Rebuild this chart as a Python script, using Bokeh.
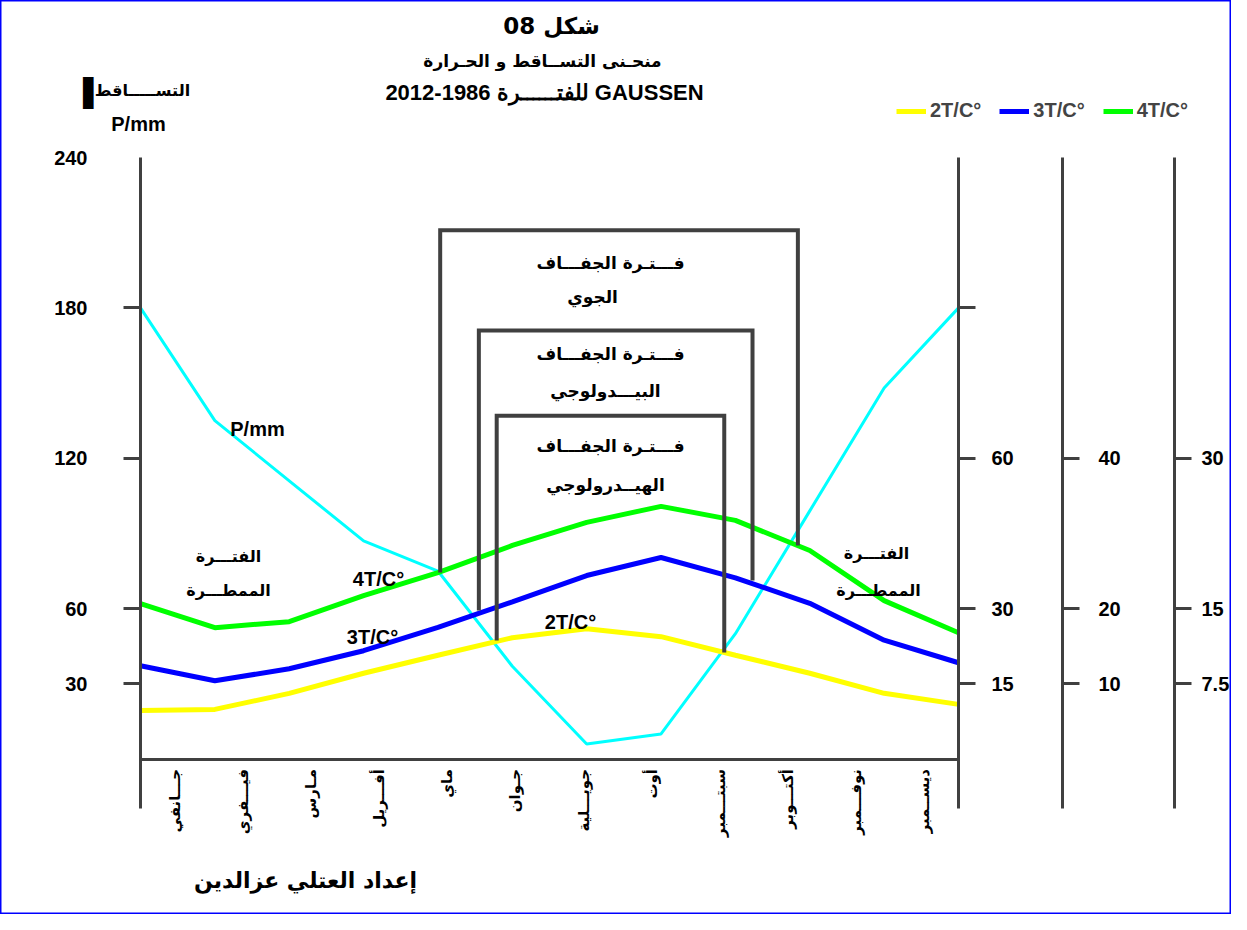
import math
from bokeh.plotting import figure
from bokeh.models import Range1d, LinearAxis, FixedTicker, Legend, LegendItem
from bokeh.core.properties import value
from bokeh.embed import file_html
from bokeh.resources import INLINE

# ---------------- data ----------------
months = ["جـــانفي", "فيـــفري", "مـارس", "أفـــريل", "ماي", "جـوان",
          "جويـــلية", "أوت", "سبتـــمبر", "أكتـــوبر", "نوفـــمبر", "ديســمبر"]
month_num = [1, 2, 3, 4, 5, 6, 7, 8, 9, 10, 11, 12]
precip_mm = [180, 135, 111, 87, 75, 37, 6, 10, 50, 99, 148, 180]
temp_2t = [9.7, 9.9, 13.1, 17.1, 20.7, 24.2, 26.0, 24.4, 20.7, 17.1, 13.1, 10.9]
temp_3t = [12.4, 10.4, 12.0, 14.4, 17.5, 20.9, 24.4, 26.8, 24.1, 20.7, 15.8, 12.8]
temp_4t = [15.5, 13.1, 13.7, 16.3, 18.6, 21.3, 23.6, 25.2, 23.8, 20.8, 15.8, 12.6]

p_ticks = [30, 60, 120, 180]
p_top_tick = [240]
t2_ticks = [15, 30, 60, 90]
t3_ticks = [10, 20, 40]
t4_ticks = [7.5, 15, 30]

# dry periods (atmospheric / pedological / hydrological)
dry_title = ["فـــتـرة الجفـــاف", "فـــتـرة الجفـــاف", "فـــتـرة الجفـــاف"]
dry_kind = ["الجوي", "البيـــدولوجي", "الهيــدرولوجي"]
dry_start = [5.03, 5.55, 5.79]
dry_end = [9.84, 9.23, 8.85]
dry_top = [211, 171, 137]
dry_bottom_start = [74.4, 59.3, 47.3]
dry_bottom_end = [85.2, 71.2, 42.5]

# ---------------- geometry ----------------
W, H = 1231, 914
SX = 818.0 / 11.0          # px per month
SY = 601.5 / 240.0         # px per mm
x_start = 1 - 140.0 / SX
x_end = x_start + W / SX
y_end = 758.5 / SY
y_start = y_end - H / SY
axis_low = -(808 - 758.5) / SY


def X(rx):
    return x_start + rx / SX


def Y(ry):
    return y_end - ry / SY


p = figure(width=W, height=H, output_backend="svg", toolbar_location=None,
           x_range=Range1d(x_start, x_end), y_range=Range1d(y_start, y_end),
           x_axis_location=None, y_axis_location=None,
           min_border=0, min_border_left=0, min_border_right=0,
           min_border_top=0, min_border_bottom=0)
p.grid.visible = False
p.outline_line_color = "#0000FF"
p.outline_line_width = 2
p.background_fill_color = "white"
p.border_fill_color = "white"

p.extra_y_ranges = {
    "t2": Range1d(y_start / 2, y_end / 2),
    "t3": Range1d(y_start / 3, y_end / 3),
    "t4": Range1d(y_start / 4, y_end / 4),
}

GRAY = "#404040"
LATIN = "Liberation Sans"
ARABIC = "DejaVu Sans"


def style(ax, tick_out, standoff):
    ax.axis_line_color = GRAY
    ax.axis_line_width = 3
    ax.major_tick_line_color = GRAY
    ax.major_tick_line_width = 3
    ax.major_tick_out = tick_out
    ax.major_tick_in = 0
    ax.minor_tick_line_color = None
    ax.major_label_text_font = LATIN
    ax.major_label_text_font_style = "bold"
    ax.major_label_text_font_size = "20px"
    ax.major_label_text_color = "black"
    ax.major_label_standoff = standoff


ax_l = LinearAxis(fixed_location=1, bounds=(axis_low, 240), ticker=FixedTicker(ticks=p_ticks))
style(ax_l, 17, 36)
p.add_layout(ax_l, "left")

ax_l2 = LinearAxis(fixed_location=1, bounds=(axis_low, 240), ticker=FixedTicker(ticks=p_top_tick))
style(ax_l2, 0, 53)
ax_l2.axis_line_color = None
ax_l2.major_tick_line_color = None
p.add_layout(ax_l2, "left")

ax_r2 = LinearAxis(fixed_location=12, y_range_name="t2", bounds=(axis_low / 2, 120),
                   ticker=FixedTicker(ticks=t2_ticks), major_label_overrides={90: ""})
style(ax_r2, 17, 16)
p.add_layout(ax_r2, "right")

ax_r3 = LinearAxis(fixed_location=X(1062), y_range_name="t3", bounds=(axis_low / 3, 80),
                   ticker=FixedTicker(ticks=t3_ticks))
style(ax_r3, 17, 19)
p.add_layout(ax_r3, "right")

ax_r4 = LinearAxis(fixed_location=X(1174), y_range_name="t4", bounds=(axis_low / 4, 60),
                   ticker=FixedTicker(ticks=t4_ticks))
style(ax_r4, 17, 10)
p.add_layout(ax_r4, "right")

centers = [round(1 + (i + 0.5) * 11 / 12, 4) for i in range(12)]
ax_b = LinearAxis(fixed_location=0, bounds=(1, 12), ticker=FixedTicker(ticks=centers),
                  major_label_overrides={c: m for c, m in zip(centers, months)})
style(ax_b, 0, 10)
ax_b.major_tick_line_color = None
ax_b.major_label_text_font = ARABIC
ax_b.major_label_text_font_size = "15px"
ax_b.major_label_orientation = math.pi / 2
p.add_layout(ax_b, "below")

# ---------------- curves ----------------
p.line(month_num, precip_mm, line_color="#00FFFF", line_width=3)
r2 = p.line(month_num, temp_2t, y_range_name="t2", line_color="#FFFF00", line_width=5)
r3 = p.line(month_num, temp_3t, y_range_name="t3", line_color="#0000FF", line_width=5)
r4 = p.line(month_num, temp_4t, y_range_name="t4", line_color="#00FF00", line_width=5)

# dry period boxes
xs = [[s, s, e, e] for s, e in zip(dry_start, dry_end)]
ys = [[b0, t, t, b1] for b0, t, b1 in zip(dry_bottom_start, dry_top, dry_bottom_end)]
p.multi_line(xs, ys, line_color=GRAY, line_width=4, line_join="miter")

# box texts
p.text(x=[X(610), X(610), X(610)], y=[Y(262), Y(353), Y(445)], text=dry_title,
       text_font=value(ARABIC), text_font_style="bold", text_font_size="17px",
       text_align="center", text_baseline="middle", text_color="black")
p.text(x=[X(592), X(605), X(605)], y=[Y(296), Y(390), Y(484)], text=dry_kind,
       text_font=value(ARABIC), text_font_style="bold", text_font_size="17px",
       text_align="center", text_baseline="middle", text_color="black")

# rainy period texts
p.text(x=[X(228), X(228), X(876), X(878)], y=[Y(556), Y(590), Y(553), Y(590)],
       text=["الفتـــرة", "الممطـــرة", "الفتـــرة", "الممطـــرة"],
       text_font=value(ARABIC), text_font_style="bold", text_font_size="16px",
       text_align="center", text_baseline="middle", text_color="black")

# curve labels
p.text(x=[X(257), X(378), X(372), X(570)], y=[Y(428), Y(578), Y(636), Y(621)],
       text=["P/mm", "4T/C°", "3T/C°", "2T/C°"],
       text_font=value(LATIN), text_font_style="bold", text_font_size="20px",
       text_align="center", text_baseline="middle", text_color="black")

# titles
p.text(x=[X(551)], y=[Y(25)], text=["شكل 08"], text_font=value(ARABIC),
       text_font_style="bold", text_font_size="23px", text_align="center",
       text_baseline="middle", text_color="black")
p.text(x=[X(542)], y=[Y(60)], text=["منحـنى التســاقط و الحـرارة"], text_font=value(ARABIC),
       text_font_style="bold", text_font_size="17px", text_align="center",
       text_baseline="middle", text_color="black")
p.text(x=[X(544)], y=[Y(92)], text=["2012-1986 للفتــــــرة GAUSSEN"], text_font=value(LATIN),
       text_font_style="bold", text_font_size="22px", text_align="center",
       text_baseline="middle", text_color="black")

# left axis title
p.text(x=[X(142)], y=[Y(90)], text=["التســـــاقط"], text_font=value(ARABIC),
       text_font_style="bold", text_font_size="16px", text_align="center",
       text_baseline="middle", text_color="black")
p.text(x=[X(93)], y=[Y(92)], text=["▌"], text_font=value("DejaVu Sans"),
       text_font_size="27px", text_align="center", text_baseline="middle", text_color="black")
p.text(x=[X(138)], y=[Y(123)], text=["P/mm"], text_font=value(LATIN),
       text_font_style="bold", text_font_size="20px", text_align="center",
       text_baseline="middle", text_color="black")

# credit
p.text(x=[X(305)], y=[Y(880)], text=["إعداد العتلي عزالدين"], text_font=value(ARABIC),
       text_font_style="bold", text_font_size="22px", text_align="center",
       text_baseline="middle", text_color="black")

# legend
legend = Legend(items=[LegendItem(label="2T/C°", renderers=[r2]),
                       LegendItem(label="3T/C°", renderers=[r3]),
                       LegendItem(label="4T/C°", renderers=[r4])],
                orientation="horizontal", location=(896, 792),
                border_line_color=None, background_fill_alpha=0,
                label_text_font=LATIN, label_text_font_style="bold",
                label_text_font_size="20px", glyph_width=30, glyph_height=20,
                label_standoff=4, spacing=18, padding=0, margin=0)
p.add_layout(legend)

open("out.html", "w").write(file_html(p, INLINE))
